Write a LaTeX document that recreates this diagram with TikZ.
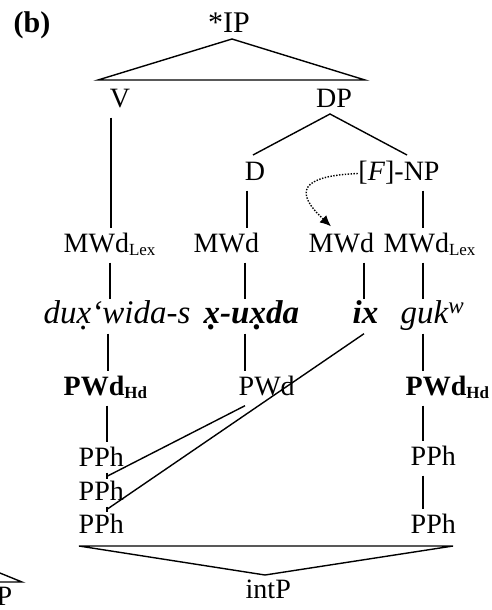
\documentclass[tikz,border=0pt]{standalone}
\usepackage{fontspec}
\setmainfont{Liberation Serif}
\usetikzlibrary{arrows.meta}
\newcommand\dx{\ooalign{x\cr\hidewidth\raisebox{-0.2em}{.}\hidewidth\cr}}
\newcommand\sbx[1]{\raisebox{-0.12em}{\fontsize{17}{17}\selectfont #1}}
\begin{document}
\begin{tikzpicture}[x=1pt,y=-1pt,
  line width=1.4pt,
  lab/.style={inner xsep=0pt, inner ysep=4pt, text height=19pt, text depth=6pt, anchor=base west, font=\fontsize{28}{30}\selectfont},
  big/.style={lab, font=\fontsize{30}{32}\selectfont},
  itl/.style={lab, font=\fontsize{33}{35}\selectfont\itshape},
  dotline/.style={dash pattern=on 1.4pt off 1.5pt, line width=1.4pt},
  tipA/.style={-{Latex[length=11pt,width=10pt]}}]
\useasboundingbox (0,0) rectangle (492,610);
\clip (0,0) rectangle (492,610);
% labels
\node[big] (b) at (13,33) {\textbf{(b)}};
\node[big, anchor=base] (ip) at (229,33) {*IP};
\node[lab, anchor=base] (v) at (120,107) {V};
\node[lab, anchor=base] (dp) at (334,107) {DP};
\node[lab, anchor=base] (d) at (255,180) {D};
\node[lab, anchor=base] (np) at (399,180) {[\textit{F}]-NP};
\node[lab] (m1) at (63,252) {MWd\sbx{Lex}};
\node[lab] (m2) at (193,252) {MWd};
\node[lab] (m3) at (308,252) {MWd};
\node[lab] (m4) at (383,252) {MWd\sbx{Lex}};
\node[itl] (w1) at (43,323) {du\dx‘wida-s};
\node[itl] (w2) at (203,323) {\bfseries\dx-u\dx da};
\node[itl] (w3) at (352,323) {\bfseries ix};
\node[itl] (w4) at (400,323) {guk\textsuperscript{w}};
\node[lab] (p1) at (63,395) {\textbf{PWd\sbx{Hd}}};
\node[lab] (p2) at (238,395) {PWd};
\node[lab] (p4) at (405,395) {\textbf{PWd\sbx{Hd}}};
\node[lab] (h1) at (78,466) {PPh};
\node[lab] (h2) at (78,500) {PPh};
\node[lab] (h3) at (78,533) {PPh};
\node[lab] (h4) at (410,465) {PPh};
\node[lab] (h5) at (410,533) {PPh};
\node[lab] (int) at (245,598) {intP};
\node[lab, anchor=base east] (pf) at (13,605) {P};
% column coordinates
\coordinate (c1a) at (111,0);
\coordinate (c1) at (110,0);
\coordinate (c1b) at (108,0);
\coordinate (c1c) at (107,0);
\coordinate (c2a) at (247,0);
\coordinate (c2) at (245,0);
\coordinate (c3) at (364,0);
\coordinate (c4) at (423,0);
% IP triangle
\coordinate (ipA) at (232,39);
\coordinate (ipL) at (98,80);
\coordinate (ipR) at (365,80);
\draw (ipL) -- (ipA) -- (ipR) -- cycle;
% DP branches
\coordinate (dpA) at (330,114);
\coordinate (dL) at (253,155);
\coordinate (dR) at (407,155);
\draw (dL) -- (dpA) -- (dR);
% column 1
\draw (v.south -| c1a) -- (m1.north -| c1a);
\draw (m1.south -| c1) -- (w1.north -| c1);
\draw (w1.south -| c1b) -- (p1.north -| c1b);
\draw (p1.south -| c1c) -- (h1.north -| c1c);
\draw ([yshift=4pt]h1.south -| c1c) -- ([yshift=-3pt]h2.north -| c1c);
\draw ([yshift=4pt]h2.south -| c1c) -- ([yshift=-3pt]h3.north -| c1c);
% column 2
\draw (d.south -| c2a) -- (m2.north -| c2a);
\draw (m2.south -| c2) -- (w2.north -| c2);
\draw (w2.south -| c2) -- (p2.north -| c2);
\draw (p2.south -| c2) -- (h2.north -| c1c);
% column 3
\draw (m3.south -| c3) -- (w3.north -| c3);
\draw (w3.south -| c3) -- (h3.north -| c1c);
% column 4
\draw (np.south -| c4) -- (m4.north -| c4);
\draw (m4.south -| c4) -- (w4.north -| c4);
\draw (w4.south -| c4) -- (p4.north -| c4);
\draw (p4.south -| c4) -- (h4.north -| c4);
\draw (h4.south -| c4) -- (h5.north -| c4);
% dotted arrow
\draw[dotline, tipA] (np.west) .. controls (300,176) and (294,192) .. ([xshift=23pt,yshift=2pt]m3.north west);
% intP triangle
\coordinate (iL) at (79,546);
\coordinate (iR) at (453,546);
\coordinate (iA) at (265,575);
\draw (iL) -- (iR) -- (iA) -- cycle;
% fragment at bottom left
\coordinate (fA) at (-5,571);
\coordinate (fB) at (-5,582);
\coordinate (fC) at (22,582);
\draw (fA) -- (fC) -- (fB);
\end{tikzpicture}
\end{document}
